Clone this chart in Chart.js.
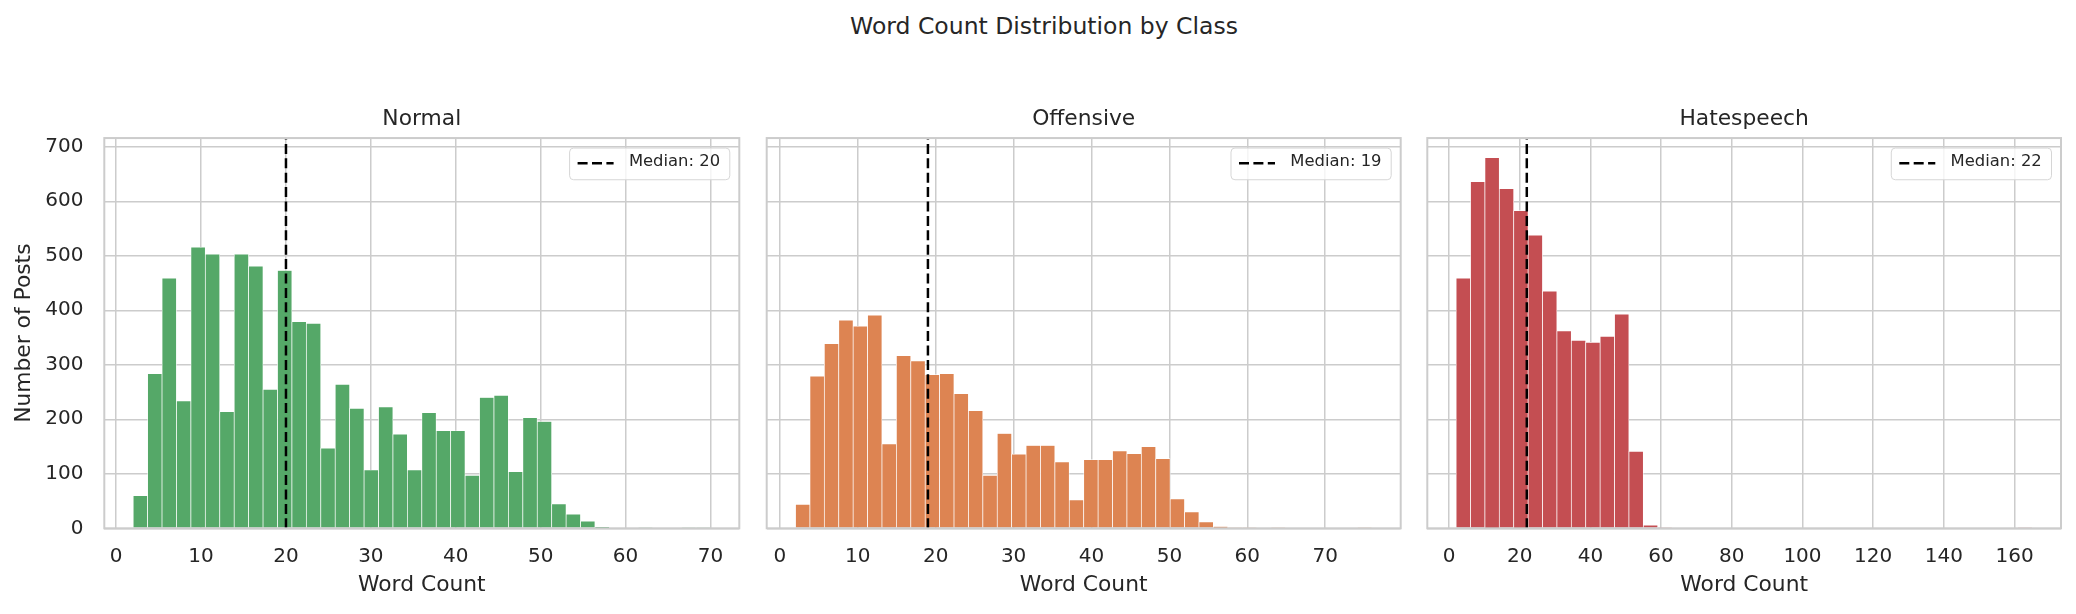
<!DOCTYPE html>
<html>
<head>
<meta charset="utf-8">
<script src="https://cdn.jsdelivr.net/npm/chart.js@4.4.1/dist/chart.umd.min.js"></script>
<style>
  html, body { margin: 0; padding: 0; background: #ffffff; }
  #wrap { position: relative; width: 2076px; height: 614px; overflow: hidden; background: #ffffff; }
  #sup { position: absolute; left: 6px; top: 12.5px; width: 2076px; text-align: center;
         font-family: 'DejaVu Sans', sans-serif; font-size: 23.5px; line-height: 26px; color: #262626; }
  canvas { position: absolute; top: 90px; }
</style>
</head>
<body>
<div id="wrap">
  <div id="sup">Word Count Distribution by Class</div>
  <canvas id="c0" width="753" height="524" style="left:0px;width:753px;height:524px"></canvas>
  <canvas id="c1" width="661" height="524" style="left:753px;width:661px;height:524px"></canvas>
  <canvas id="c2" width="662" height="524" style="left:1414px;width:662px;height:524px"></canvas>
</div>
<script>
// ---------------- data ----------------
const classNames = ['Normal', 'Offensive', 'Hatespeech'];

// histogram counts (40 bins each)
const normalCounts = [60, 284, 459, 234, 516, 503, 214, 503, 481, 255, 473, 379, 376, 147, 264, 220, 107, 223, 173, 107,
                      212, 179, 179, 97, 240, 244, 104, 203, 196, 45, 26, 13, 2, 0, 0, 1, 0, 0, 1, 1];
const offensiveCounts = [44, 279, 339, 382, 371, 391, 155, 317, 307, 282, 284, 247, 216, 97, 174, 136, 152, 152, 122, 52,
                         126, 126, 142, 137, 150, 128, 54, 30, 12, 3, 1, 1, 0, 1, 0, 0, 0, 0, 0, 1];
const hatespeechCounts = [459, 636, 680, 623, 583, 538, 435, 362, 345, 341, 352, 393, 141, 6, 1, 0, 0, 0, 0, 0,
                          0, 0, 0, 0, 0, 0, 0, 0, 0, 0, 0, 0, 0, 0, 0, 0, 0, 0, 0, 1];

// word-count range covered by the bins (min, max) for each class
const normalRange = [2, 70];
const offensiveRange = [2, 76];
const hatespeechRange = [2, 165];

const medians = [20, 19, 22];

// tick labels
const xTicksNormal = [0, 10, 20, 30, 40, 50, 60, 70];
const xTicksOffensive = [0, 10, 20, 30, 40, 50, 60, 70];
const xTicksHatespeech = [0, 20, 40, 60, 80, 100, 120, 140, 160];
const yTicks = [0, 100, 200, 300, 400, 500, 600, 700];
const yMax = 716;

// ---------------- style / layout ----------------
const barColors = ['#55a868', '#dd8452', '#c44e52'];
const textColor = '#262626';
const gridColor = '#cccccc';
const yAxisWidths = [104.3, 13.7, 13.3];
const padRight = [13.7, 13.3, 15];

Chart.defaults.font.family = "'DejaVu Sans', sans-serif";
Chart.defaults.color = textColor;

const countsByClass = [normalCounts, offensiveCounts, hatespeechCounts];
const rangeByClass = [normalRange, offensiveRange, hatespeechRange];
const xTicksByClass = [xTicksNormal, xTicksOffensive, xTicksHatespeech];

const framePlugin = {
  id: 'frame',
  afterDatasetsDraw(chart) {
    const { ctx, chartArea: a } = chart;
    ctx.save();
    ctx.setLineDash([]);
    ctx.strokeStyle = gridColor;
    ctx.lineWidth = 2;
    ctx.strokeRect(a.left, a.top, a.right - a.left, a.bottom - a.top);
    ctx.restore();
  }
};

const legendPlugin = {
  id: 'medLegend',
  afterDraw(chart) {
    const ds = chart.data.datasets[0];
    const { ctx, chartArea: a } = chart;
    ctx.save();
    ctx.font = "16.4px 'DejaVu Sans'";
    const tw = ctx.measureText(ds.label).width;
    const bw = 59.3 + tw + 9.7, bh = 31.7;
    const x0 = a.right - 9.5 - bw, y0 = a.top + 10;
    ctx.beginPath();
    ctx.roundRect(x0, y0, bw, bh, 4);
    ctx.fillStyle = 'rgba(255,255,255,0.8)';
    ctx.fill();
    ctx.strokeStyle = '#d6d6d6';
    ctx.lineWidth = 1;
    ctx.stroke();
    ctx.beginPath();
    ctx.setLineDash(ds.borderDash);
    ctx.lineWidth = ds.borderWidth;
    ctx.strokeStyle = ds.borderColor;
    ctx.moveTo(x0 + 8, y0 + 15.3);
    ctx.lineTo(x0 + 44, y0 + 15.3);
    ctx.stroke();
    ctx.setLineDash([]);
    ctx.fillStyle = textColor;
    ctx.textBaseline = 'middle';
    ctx.textAlign = 'left';
    ctx.fillText(ds.label, x0 + 59.3, y0 + 14);
    ctx.restore();
  }
};

function makeChart(i) {
  const counts = countsByClass[i];
  const [lo, hi] = rangeByClass[i];
  const binW = (hi - lo) / counts.length;
  const bars = counts.map((c, k) => ({ x: lo + (k + 0.5) * binW, y: c }));
  const margin = 0.05 * (hi - lo);
  const xTicks = xTicksByClass[i];
  const med = medians[i];
  const first = i === 0;

  return new Chart(document.getElementById('c' + i), {
    type: 'bar',
    data: {
      datasets: [
        {
          type: 'line',
          label: 'Median: ' + med,
          data: [{ x: med, y: 0 }, { x: med, y: yMax }],
          borderColor: '#000000',
          borderWidth: 2.5,
          borderDash: [10, 4.4],
          pointRadius: 0,
          fill: false,
          order: 0
        },
        {
          type: 'bar',
          label: classNames[i],
          data: bars,
          backgroundColor: barColors[i],
          borderColor: '#ffffff',
          borderWidth: { top: 0.7, left: 0.7, right: 0.7, bottom: 0 },
          borderSkipped: 'start',
          barPercentage: 1,
          categoryPercentage: 1,
          order: 1
        }
      ]
    },
    options: {
      responsive: false,
      animation: false,
      devicePixelRatio: 1,
      layout: { padding: { left: 0, right: padRight[i], top: 0, bottom: 0 } },
      plugins: {
        legend: { display: false },
        tooltip: { enabled: false },
        title: {
          display: true,
          fullSize: false,
          text: classNames[i],
          color: textColor,
          font: { size: 21.8, weight: 'normal', lineHeight: 1.2 },
          padding: { top: 16.3, bottom: 5.6 }
        }
      },
      scales: {
        x: {
          type: 'linear',
          min: lo - margin,
          max: hi + margin,
          offset: false,
          grid: { color: gridColor, lineWidth: 1.5, drawTicks: false, offset: false },
          border: { display: false },
          ticks: { color: textColor, font: { size: 20, lineHeight: 1.2 }, padding: 16, maxRotation: 0, autoSkip: false },
          title: { display: true, text: 'Word Count', color: textColor, font: { size: 21.8, lineHeight: 1.2 }, padding: { top: 0, bottom: 15.5 } },
          afterBuildTicks: s => { s.ticks = xTicks.map(v => ({ value: v })); },
          afterFit: s => { s.height = 85.7; }
        },
        y: {
          min: 0,
          max: yMax,
          grid: { color: gridColor, lineWidth: 1.5, drawTicks: false },
          border: { display: false },
          ticks: { display: first, color: textColor, font: { size: 20, lineHeight: 1.2 }, padding: 20.8 },
          title: { display: first, text: 'Number of Posts', color: textColor, font: { size: 21.8, lineHeight: 1.2 }, padding: { top: 10.8, bottom: 0 } },
          afterBuildTicks: s => { s.ticks = yTicks.map(v => ({ value: v })); },
          afterFit: s => { s.width = yAxisWidths[i]; }
        }
      }
    },
    plugins: [framePlugin, legendPlugin]
  });
}

[0, 1, 2].forEach(makeChart);
</script>
</body>
</html>
